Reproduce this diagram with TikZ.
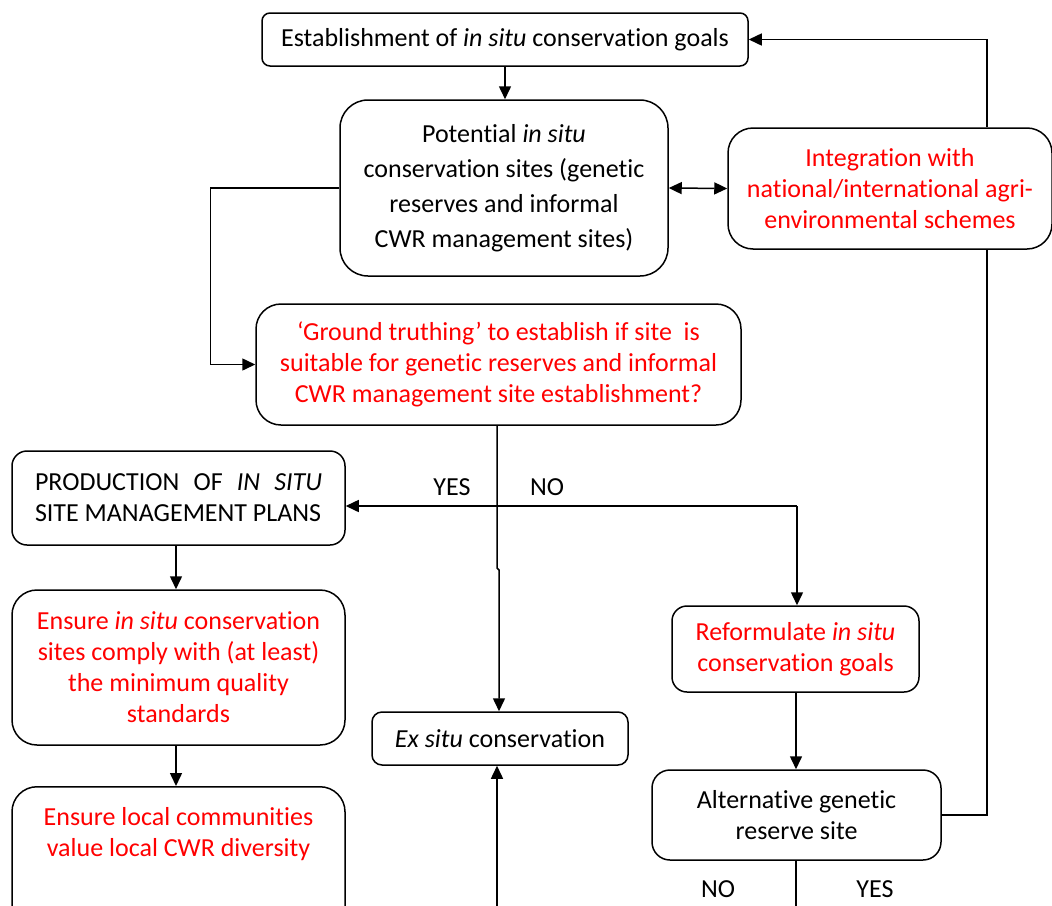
\documentclass[tikz,border=0pt]{standalone}
\usepackage{fontspec}
\setmainfont{Carlito}[Ligatures=NoCommon]
\usetikzlibrary{arrows.meta}
\definecolor{txtred}{RGB}{255,0,0}
\tikzset{
  box/.style={draw, line width=1.5pt, align=center, inner sep=0pt, font=\fontsize{26}{31}\selectfont},
  lbl/.style={inner sep=0pt, font=\fontsize{26}{31}\selectfont},
  conn/.style={line width=1.5pt},
  arr/.style={conn, -{Triangle[length=13pt,width=12pt]}},
  dbl/.style={conn, {Triangle[length=13pt,width=12pt]}-{Triangle[length=13pt,width=12pt]}},
}
\begin{document}
\begin{tikzpicture}[x=1pt,y=-1pt]
\useasboundingbox (0,0) rectangle (1052,905);
\clip (0,0) rectangle (1052,905);
\node[box, minimum width=486pt, minimum height=53pt, rounded corners=8pt] (top) at (505,39.5) {Establishment of \textit{in situ} conservation goals};
\node[box, minimum width=328pt, minimum height=176pt, rounded corners=28pt, font=\fontsize{26}{35}\selectfont] (pot) at (504,188) {Potential \textit{in situ}\\conservation sites (genetic\\reserves and informal\\CWR management sites)};
\node[box, minimum width=324pt, minimum height=121pt, rounded corners=25pt, text=txtred] (integ) at (890,188.5) {Integration with\\national/international agri-\\environmental schemes};
\node[box, minimum width=485pt, minimum height=121pt, rounded corners=25pt, text=txtred] (ground) at (498.5,364.5) {`Ground truthing' to establish if site\ \ is\\suitable for genetic reserves and informal\\CWR management site establishment?};
\node[box, minimum width=333pt, minimum height=94pt, rounded corners=15pt, align=left] (prod) at (178.5,498) {\makebox[287pt][s]{PRODUCTION OF \textit{IN SITU}}\\SITE MANAGEMENT PLANS};
\node[box, minimum width=333pt, minimum height=155pt, rounded corners=25pt, text=txtred] (ensure) at (178.5,667.5) {Ensure \textit{in situ} conservation\\sites comply with (at least)\\the minimum quality\\standards};
\node[box, minimum width=333pt, minimum height=150pt, rounded corners=25pt, anchor=north] (local) at (178.5,786) {};
\node[lbl, text=txtred, align=center] (localtxt) at (178.5,834) {Ensure local communities\\value local CWR diversity};
\node[box, minimum width=256pt, minimum height=53pt, rounded corners=10pt] (exsitu) at (500,738.5) {\textit{Ex situ} conservation};
\node[box, minimum width=247pt, minimum height=86pt, rounded corners=15pt, text=txtred] (reform) at (795.5,649) {Reformulate \textit{in situ}\\conservation goals};
\node[box, minimum width=289pt, minimum height=90pt, rounded corners=18pt] (alt) at (796.5,815) {Alternative genetic\\reserve site};
% labels
\node[lbl] (yes1) at (452,487) {YES};
\node[lbl] (no1) at (547,487) {NO};
\node[lbl] (no2) at (718,889) {NO};
\node[lbl] (yes2) at (875,889) {YES};
% coordinates
\coordinate (rx) at (987,0);
\coordinate (lx) at (176,0);
\coordinate (mx) at (497,0);
\coordinate (jog1) at (497,568);
\coordinate (jog2) at (499,570);
\coordinate (j) at (797,506);
\coordinate (cx) at (796,0);
\coordinate (b1) at (497,915);
\coordinate (b2) at (796,915);
% connectors
\draw[arr] (top.south) -- (top.south |- pot.north);
\draw[dbl] (pot.east) -- (integ.west);
\draw[arr] (integ.north -| rx) |- (top.east);
\draw[conn] (integ.south -| rx) |- (alt.east);
\draw[arr] (pot.west) -- ++(-129,0) |- (ground.west);
\draw[arr] (ground.south -| mx) -- (jog1) -- (jog2) -- (exsitu.north -| jog2);
\draw[arr] (j) -- (prod.east |- j);
\draw[arr] (j) -- (reform.north -| j);
\draw[arr] (prod.south -| lx) -- (ensure.north -| lx);
\draw[arr] (ensure.south -| lx) -- (local.north -| lx);
\draw[arr] (b1) -- (exsitu.south -| b1);
\draw[arr] (reform.south -| cx) -- (alt.north -| cx);
\draw[conn] (alt.south -| cx) -- (b2);
\end{tikzpicture}
\end{document}
